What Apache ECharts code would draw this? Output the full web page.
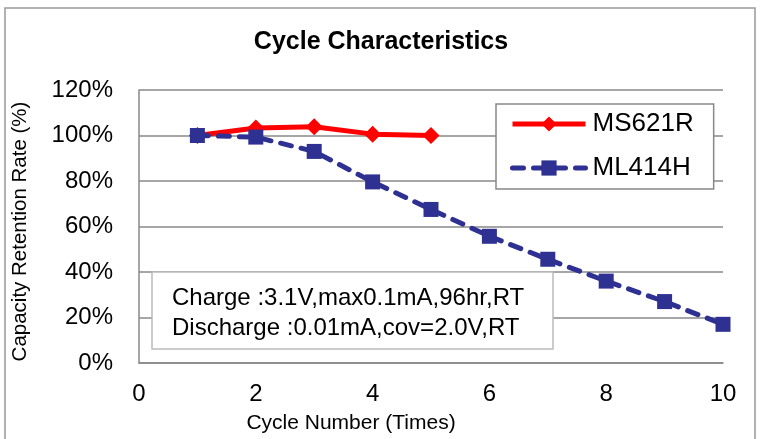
<!DOCTYPE html>
<html><head><meta charset="utf-8">
<script src="https://cdn.jsdelivr.net/npm/echarts@6/dist/echarts.min.js"></script>
<style>html,body{margin:0;padding:0;background:#fff}#c{width:762px;height:439px}</style>
</head><body><div id="c"></div>
<script>
const cyclesMS = [1, 2, 3, 4, 5];
const ms621r = [100, 103.3, 103.8, 100.6, 100];
const cyclesML = [1, 2, 3, 4, 5, 6, 7, 8, 9, 10];
const ml414h = [100, 99.3, 93, 79.6, 67.5, 55.7, 45.6, 36, 27, 17];
const xTicks = [0, 2, 4, 6, 8, 10];
const yTicks = [0, 20, 40, 60, 80, 100, 120];
const noteLines = ['Charge :3.1V,max0.1mA,96hr,RT', 'Discharge :0.01mA,cov=2.0V,RT'];

const F = 'Liberation Sans, Arial, sans-serif';
const RED = '#ff0000', BLUE = '#2e3192';
const chart = echarts.init(document.getElementById('c'));
chart.setOption({
  animation: false,
  backgroundColor: '#fff',
  title: { text: 'Cycle Characteristics', left: 'center', top: 25,
    textStyle: { fontFamily: F, fontSize: 25, fontWeight: 'bold', color: '#000' } },
  grid: { left: 139, right: 39, top: 90, bottom: 76 },
  xAxis: { type: 'value', min: xTicks[0], max: xTicks[xTicks.length-1], interval: 2,
    name: 'Cycle Number (Times)', nameLocation: 'middle', nameGap: 50,
    nameTextStyle: { fontFamily: F, fontSize: 21, color: '#000', padding: [0, 160, 0, 0] },
    axisLine: { lineStyle: { color: '#888', width: 1.5 } }, axisTick: { show: false },
    axisLabel: { fontFamily: F, fontSize: 24, color: '#000', margin: 19 },
    splitLine: { show: false } },
  yAxis: { type: 'value', min: yTicks[0], max: yTicks[yTicks.length-1], interval: 20,
    name: 'Capacity Retention Rate (%)', nameLocation: 'middle', nameGap: 108,
    nameTextStyle: { fontFamily: F, fontSize: 20.5, color: '#000', padding: [0, 10, 0, 0] },
    axisLine: { show: true, lineStyle: { color: '#888', width: 1.5 } }, axisTick: { show: false },
    axisLabel: { fontFamily: F, fontSize: 24, color: '#000', margin: 26, formatter: v => v + '%' },
    splitLine: { lineStyle: { color: '#888', width: 1.5 } } },
  legend: { orient: 'vertical', left: 496, top: 104,
    padding: [7, 20, 8, 14], itemGap: 18, itemWidth: 73, itemHeight: 19,
    borderColor: '#888', borderWidth: 1.5, backgroundColor: '#fff',
    textStyle: { fontFamily: F, fontSize: 26, color: '#000', padding: [0, 0, 0, 2] },
    data: [
      { name: 'MS621R', lineStyle: { width: 5 } },
      { name: 'ML414H', lineStyle: { width: 5 } }
    ] },
  series: [
    { name: 'MS621R', type: 'line', data: cyclesMS.map((x, i) => [x, ms621r[i]]),
      symbol: 'diamond', symbolSize: 17, z: 3,
      lineStyle: { color: RED, width: 5 }, itemStyle: { color: RED } },
    { name: 'ML414H', type: 'line', data: cyclesML.map((x, i) => [x, ml414h[i]]),
      symbol: 'rect', symbolSize: 15, z: 4,
      lineStyle: { color: BLUE, width: 5, type: [11, 10], cap: 'round' }, itemStyle: { color: BLUE } }
  ],
  graphic: [
    { type: 'rect', shape: { x: 5, y: 8, width: 750, height: 440 }, z: -10,
      style: { fill: 'none', stroke: '#999', lineWidth: 1.5 } },
    { type: 'rect', shape: { x: 152, y: 272, width: 401, height: 77 }, z: 10,
      style: { fill: '#fff', stroke: '#bbb', lineWidth: 1.5 } },
    { type: 'text', x: 172, y: 283, z: 11,
      style: { text: noteLines.join('\n'), fontFamily: F, fontSize: 24, lineHeight: 30, fill: '#000' } }
  ]
});
</script></body></html>
